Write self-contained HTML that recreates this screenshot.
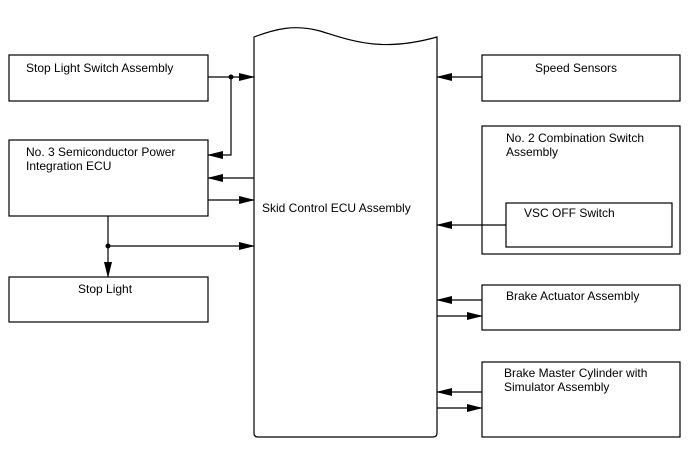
<!DOCTYPE html>
<html><head><style>body{margin:0;background:#fff}svg{display:block}text{font-family:"Liberation Sans",Arial,sans-serif;font-size:12px;fill:#000}</style></head><body>
<svg width="688" height="463" viewBox="0 0 688 463">
<defs><marker id="a" markerWidth="16" markerHeight="8" refX="15" refY="4" orient="auto" markerUnits="userSpaceOnUse"><path d="M0,0 L16,4 L0,8 z" fill="#000"/></marker></defs>
<g fill="none" stroke="#000" stroke-width="1.2">
<rect x="9" y="55" width="199" height="46"/>
<rect x="9" y="140" width="199" height="76"/>
<rect x="9" y="277" width="199" height="45"/>
<rect x="482" y="55" width="198" height="46"/>
<rect x="482" y="126" width="198" height="128"/>
<rect x="506" y="203" width="166" height="44"/>
<rect x="482" y="285" width="198" height="45"/>
<rect x="482" y="362" width="198" height="75"/>
<path d="M254,37 C275,29 295,24 320,31 C350,40 380,53 437,37 L437,433 Q437,437 433,437 L258,437 Q254,437 254,433 Z"/>
<path d="M208,77 H254" marker-end="url(#a)"/>
<path d="M231,77 V155 H208" marker-end="url(#a)"/>
<path d="M254,178 H208" marker-end="url(#a)"/>
<path d="M208,200 H254" marker-end="url(#a)"/>
<path d="M108,216 V277" marker-end="url(#a)"/>
<path d="M108,246 H254" marker-end="url(#a)"/>
<path d="M482,77 H437" marker-end="url(#a)"/>
<path d="M506,225 H437" marker-end="url(#a)"/>
<path d="M482,300 H437" marker-end="url(#a)"/>
<path d="M437,316 H482" marker-end="url(#a)"/>
<path d="M482,392 H437" marker-end="url(#a)"/>
<path d="M437,408 H482" marker-end="url(#a)"/>
</g>
<circle cx="231" cy="77" r="2.5"/><circle cx="108" cy="246" r="2.5"/>
<text x="26" y="72">Stop Light Switch Assembly</text>
<text x="26" y="156">No. 3 Semiconductor Power</text>
<text x="26" y="170">Integration ECU</text>
<text x="78" y="293">Stop Light</text>
<text x="262" y="212">Skid Control ECU Assembly</text>
<text x="535" y="72">Speed Sensors</text>
<text x="506" y="142">No. 2 Combination Switch</text>
<text x="506" y="156">Assembly</text>
<text x="524" y="217">VSC OFF Switch</text>
<text x="506" y="300">Brake Actuator Assembly</text>
<text x="504" y="377">Brake Master Cylinder with</text>
<text x="504" y="391">Simulator Assembly</text>
</svg></body></html>
